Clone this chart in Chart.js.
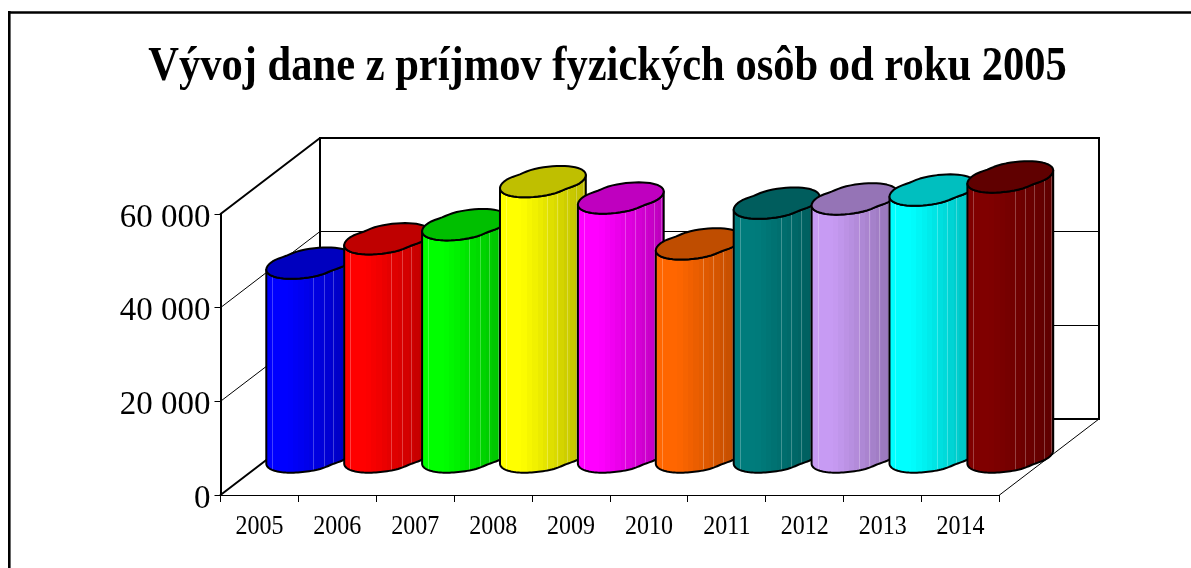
<!DOCTYPE html>
<html>
<head>
<meta charset="utf-8">
<style>html,body{margin:0;padding:0;background:#fff;overflow:hidden}#w{position:relative;width:1191px;height:568px}canvas{display:block}</style>
<script src="https://cdn.jsdelivr.net/npm/chart.js@4"></script>
</head>
<body>
<div id="w"><canvas id="c" width="1191" height="568"></canvas></div>
<script>
const titleText = "Vývoj dane z príjmov fyzických osôb od roku 2005";
const years = ["2005","2006","2007","2008","2009","2010","2011","2012","2013","2014"];
const taxValues = [41400,46600,49600,58800,55300,45500,54200,55100,57000,59800];
const barColors = ["#0000ff","#ff0000","#00ff00","#ffff00","#ff00ff","#ff6600","#007c7c","#c79bf3","#00ffff","#800000"];
const yTicks = [0,20000,40000,60000];

const DX = 99.5, DY = 76;           // wall depth offset
const CAP_DY = 15.7, CAP_DX = 18;   // half depth of a cylinder
const SEAMS = [0.07,0.55,0.67,0.78,0.89,0.97];

function rgb(hex,k){const n=parseInt(hex.slice(1),16);return `rgb(${Math.round((n>>16&255)*k)},${Math.round((n>>8&255)*k)},${Math.round((n&255)*k)})`;}

function pt(cx,cy,a,t){
  const c=-Math.PI/6;
  let d=((t-c)%Math.PI+Math.PI)%Math.PI; if(d>Math.PI/2)d-=Math.PI;
  const r = 1 - 0.07*Math.exp(-(d*d)/(0.26*0.26));
  return [cx + r*(a*Math.cos(t)+CAP_DX*Math.sin(t)), cy - r*CAP_DY*Math.sin(t)];
}
function arc(ctx,cx,cy,a,t0,t1,move){
  const n=60;
  for(let i=0;i<=n;i++){
    const p=pt(cx,cy,a,t0+(t1-t0)*i/n);
    if(i===0&&move)ctx.moveTo(p[0],p[1]);else ctx.lineTo(p[0],p[1]);
  }
}
function cylinder(ctx,x,top,base,w,color){
  const a=w/2, cx=x+DX/2, cyT=top-DY/2, cyB=base-DY/2;
  const t0=Math.atan2(CAP_DX,a);
  const R=pt(cx,cyT,a,t0)[0], L=pt(cx,cyT,a,t0-Math.PI)[0];
  const body=()=>{ctx.beginPath();arc(ctx,cx,cyT,a,t0,t0-Math.PI,true);arc(ctx,cx,cyB,a,t0-Math.PI,t0,false);ctx.closePath();};
  const g=ctx.createLinearGradient(L,0,R,0);
  const N=16;
  for(let i=0;i<N;i++){
    const f=(i+0.5)/N, k=f<0.25?1:1-0.27*(f-0.25)/0.75;
    g.addColorStop(i/N,rgb(color,k));g.addColorStop((i+1)/N,rgb(color,k));
  }
  ctx.save();
  body();ctx.fillStyle=g;ctx.fill();
  ctx.save();ctx.clip();
  ctx.strokeStyle='rgba(255,255,255,0.25)';ctx.lineWidth=1;
  SEAMS.forEach(s=>{const sx=Math.round(L+s*(R-L))+0.5;ctx.beginPath();ctx.moveTo(sx,cyT-40);ctx.lineTo(sx,cyB+40);ctx.stroke();});
  ctx.restore();
  ctx.lineJoin='round';ctx.lineWidth=2;ctx.strokeStyle='#000';
  body();ctx.stroke();
  ctx.beginPath();arc(ctx,cx,cyT,a,0,Math.PI*2,true);ctx.closePath();
  ctx.fillStyle=rgb(color,0.75);ctx.fill();ctx.stroke();
  ctx.restore();
}
const line=(ctx,x0,y0,x1,y1,lw)=>{ctx.lineWidth=lw;ctx.beginPath();ctx.moveTo(x0,y0);ctx.lineTo(x1,y1);ctx.stroke();};

// the reference's text is slightly condensed: each string is squeezed about its own anchor
function condensed(ctx,sx,draw){
  const ft=ctx.fillText;
  ctx.fillText=function(s,x,y){ctx.save();ctx.translate(x,y);ctx.scale(sx,1);ft.call(ctx,s,0,0);ctx.restore();};
  try{draw();}finally{delete ctx.fillText;}
}

const scene={
  id:'scene',
  afterLayout(chart){
    const tb=chart.titleBlock;
    tb.left=24;tb.right=1191;
    const {x,y}=chart.scales;
    if(!y._wrapped){
      const oy=y.drawLabels,ox=x.drawLabels,ot=tb.draw;
      y.drawLabels=function(area){const c=this.ctx;c.save();c.translate(0,4);oy.call(this,area);c.restore();};
      x.drawLabels=function(area){condensed(this.ctx,0.857,()=>ox.call(this,area));};
      tb.draw=function(){condensed(this.ctx,0.879,()=>ot.call(this));};
      y._wrapped=true;
    }
  },
  beforeDraw(chart){
    const ctx=chart.ctx;ctx.save();ctx.strokeStyle='#000';
    line(ctx,9.3,11,9.3,568,2.6);line(ctx,8,12.5,1191,12.5,2.6);
    ctx.restore();
  },
  beforeDatasetsDraw(chart){
    const ctx=chart.ctx,{x,y}=chart.scales,l=x.left,r=x.right;ctx.save();ctx.strokeStyle='#000';ctx.lineCap='round';
    yTicks.forEach(v=>{
      const p=y.getPixelForValue(v);
      if(v!==0&&v!==60000){
        const yb=Math.floor(p-DY)+0.5;
        line(ctx,l,p,l+DX,yb,1);line(ctx,l+DX,yb,r+DX,yb,1);
      }
    });
    const t=y.getPixelForValue(60000),b=y.getPixelForValue(0);
    line(ctx,l,t,l+DX,t-DY,2);
    line(ctx,l,b,l+DX,b-DY,2);
    line(ctx,r,b,r+DX,b-DY,1);
    ctx.lineWidth=2;ctx.strokeRect(l+DX,t-DY,r-l,b-t);
    ctx.restore();
  },
  beforeDatasetDraw(chart,args){
    const ctx=chart.ctx,y=chart.scales.y;
    args.meta.data.forEach((el,i)=>cylinder(ctx,el.x,el.y,y.getPixelForValue(0),el.width,barColors[i]));
    return false;
  }
};

new Chart(document.getElementById('c'),{
  type:'bar',
  data:{labels:years,datasets:[{label:'Daň z príjmov',data:taxValues,backgroundColor:barColors,barPercentage:1,categoryPercentage:1}]},
  plugins:[scene],
  options:{
    responsive:false,animation:false,
    layout:{autoPadding:false,padding:{left:0,right:191.5,top:0,bottom:0}},
    plugins:{
      legend:{display:false},tooltip:{enabled:false},
      title:{display:true,text:titleText,color:'#000',align:'center',
        font:{family:'"Liberation Serif"',size:48.4,weight:'bold',lineHeight:1.2},
        padding:{top:38.5,bottom:117.42}}
    },
    scales:{
      x:{
        afterFit(s){s.height=73;},
        grid:{offset:true,drawOnChartArea:false,drawTicks:true,tickLength:7,tickColor:'#000',tickWidth:1},
        border:{display:true,color:'#000',width:1},
        ticks:{color:'#000',padding:8,maxRotation:0,autoSkip:false,font:{family:'"Liberation Serif"',size:28}}
      },
      y:{
        min:0,max:60000,
        afterFit(s){s.width=220.5;},
        afterBuildTicks(s){s.ticks=yTicks.map(v=>({value:v}));},
        grid:{drawOnChartArea:false,drawTicks:true,tickLength:6,tickColor:'#000',tickWidth:1},
        border:{display:true,color:'#000',width:2},
        ticks:{color:'#000',padding:4,font:{family:'"Liberation Serif"',size:33},
          callback:v=>String(v).replace(/\B(?=(\d{3})+$)/g,' ')}
      }
    }
  }
});
</script>
</body>
</html>
